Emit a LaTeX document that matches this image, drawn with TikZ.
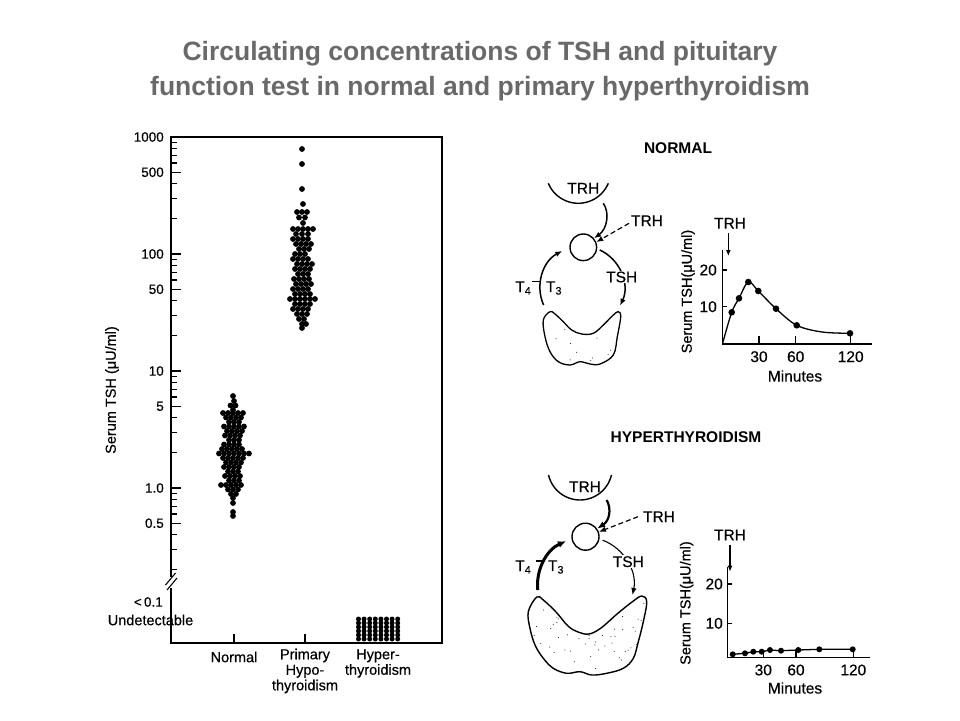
\documentclass[tikz,border=0pt]{standalone}
\usepackage{fontspec}
\setmainfont{Liberation Sans}
\newfontfamily\figfont[FakeBold=0.4]{Liberation Sans}
\usetikzlibrary{arrows.meta}
\definecolor{titlegray}{RGB}{105,105,105}
\begin{document}
\begin{tikzpicture}[x=1pt,y=-1pt,
  llab/.style={font=\figfont\fontsize{14.5}{15.5}\selectfont, inner sep=0pt},
  tlab/.style={font=\figfont\fontsize{13.5}{15}\selectfont, inner sep=0pt},
  rlab/.style={font=\figfont\fontsize{15.5}{17}\selectfont, inner sep=0pt},
  slab/.style={font=\figfont\fontsize{14.5}{16}\selectfont, inner sep=0pt},
  blab/.style={font=\bfseries\fontsize{15.5}{17}\selectfont, inner sep=0pt},
  ttl/.style={font=\bfseries\fontsize{26.5}{35}\selectfont, text=titlegray, align=center},
  axl/.style={line width=1.3pt},
  arr/.style={-{Latex[length=7pt,width=5.5pt]}, line width=1.5pt},
  darr/.style={-{Latex[length=7pt,width=5.5pt]}, line width=1.2pt, dash pattern=on 5pt off 3pt},
  pit/.style={circle, draw, line width=1.4pt, inner sep=0pt},
  gline/.style={line width=1.3pt}
]
\useasboundingbox (0,0) rectangle (960,720);

% ---------------- title ----------------
\node[ttl] (title) at (480,71.5) {Circulating concentrations of TSH and pituitary\\function test in normal and primary hyperthyroidism};

% ---------------- left chart ----------------
\draw[axl] (171,577) -- (171,137) -- (442,137) -- (442,643) -- (171,643) -- (171,588);
\draw[line width=1.1pt] (165.5,585) -- (175.5,573);
\draw[line width=1.1pt] (167,590) -- (177,578);
\foreach \v/\t [count=\i] in {1000/1000,500/500,100/100,50/50,10/10,5/5,1/1.0,0.5/0.5} {
  \pgfmathsetmacro\yy{137+117*(3-ln(\v)/ln(10))}
  \draw[axl] (171,\yy) -- (181,\yy);
  \node[tlab, anchor=east] (ytick\i) at (164,\yy) {\t};
}
\foreach \v in {900,800,700,600,400,300,200,90,80,70,60,40,30,20,9,8,7,6,4,3,2,0.9,0.8,0.7,0.6,0.4,0.3,0.2} {
  \pgfmathsetmacro\yy{137+117*(3-ln(\v)/ln(10))}
  \draw[line width=1.1pt] (171,\yy) -- (177,\yy);
}
\node[tlab, anchor=east] (lt01) at (163,602) {<\,0.1};
\node[llab] (undet) at (150.5,620) {Undetectable};
\node[llab, rotate=90] (ylabL) at (112,390) {Serum TSH (μU/ml)};
\draw[axl] (234,643) -- (234,634);
\draw[axl] (305,643) -- (305,634);
\node[llab] (cNormal) at (234,657) {Normal};
\node[llab, align=center] (cPrim) at (305,671) {Primary\\Hypo-\\thyroidism};
\node[llab, align=center] (cHyper) at (378,663.5) {Hyper-\\thyroidism};

% normal cluster
\foreach \y/\xs in {396/{0},401/{1},405.5/{-2.5,2.5},410/{0},413/{-10,-5,0,5,10},417.5/{-7,-2,3,8},422/{-4,1,6},426.5/{-9,-4,1,6,11},431/{-6,-1,4,9},435.5/{-8,-3,2,7},440/{-4,1,6},444.5/{-9,-4,1,6},449/{-11,-6,-1,4,9},453.5/{-14,-9,-4,1,6,11,16},458/{-10,-5,0,5,10},462.5/{-7,-2,3,8},467/{-9,-4,1,6},471.5/{-5,0,5},476/{-8,-3,2,7},480.5/{-4,1,6},485/{-12,-7,-2,3,8},489.5/{-5,0,5},494/{-2,3},498/{0},503/{0},512/{0},516/{0}} {
  \foreach \dx in \xs { \fill ({233+(\dx)},\y) circle[radius=2.9]; }
}
% primary hypothyroidism cluster
\foreach \y/\xs in {149/{0},164/{0},189/{0},204/{1},212/{-5,0,5},217.5/{-3,3},223/{1},229/{-9,-4,1,6,11},234/{-6,0,6},239/{-9,-4,1,6},244/{-6,-1,4,9},249/{-3,2,7},254/{-7,-2,3},259/{-9,-4,1,6},264/{-5,0,5,10},269/{-7,-2,3,8},274/{-4,1,6},279/{-8,-3,2,7},284/{-6,-1,4,9},289/{-9,-4,1,6},294/{-7,-2,3,8},299/{-12,-7,-2,3,8,13},304/{-7,-2,3,8},309/{-9,-4,1,6},314/{-5,0,5},319/{-3,2},324/{0,4},328/{0}} {
  \foreach \dx in \xs { \fill ({302+(\dx)},\y) circle[radius=2.9]; }
}
% hyperthyroidism block
\foreach \c in {0,...,7} { \foreach \r in {0,...,5} {
  \fill ({358.5+5.6*\c},{619+4*\r}) circle[radius=2.5];
}}

% ---------------- NORMAL panel ----------------
\node[blab] (tNormal) at (678,148) {NORMAL};
\draw[line width=1.4pt] (578.3,170.8) ++(157.4:32.5) arc[start angle=157.4, end angle=22.6, radius=32.5];
\node[rlab] (nTRHh) at (583.3,188.3) {TRH};
\node[pit, minimum size=26.6pt] (nPit) at (583.3,247.3) {};
\coordinate (nHypOut) at (603.3,203.3);
\draw[arr] (nHypOut) .. controls (610,213) and (607,229) .. (nPit.40);
\node[rlab] (nTRHd) at (647,220.7) {TRH};
\coordinate (nDashS) at (629,223.3);
\draw[darr] (nDashS) -- (nPit.22);
\draw[arr] (582,288) ++(-65:42) arc[start angle=-65, end angle=25, radius=42];
\node[rlab, fill=white, inner sep=1pt] (nTSH) at (621.7,277) {TSH};
\draw[arr] (582,288) ++(156:42) arc[start angle=156, end angle=242, radius=42];
\draw[line width=1.2pt] (532,281.5) -- (539.5,281.5);
\node[rlab] (nT4) at (523.3,288) {T\textsubscript{4}};
\node[rlab] (nT3) at (554,288) {T\textsubscript{3}};
% thyroid (normal)
\def\thyN{(550,311.7) (543.3,320) (545,336.7) (550,351.7) (558.3,361.7) (570,365) (580,361.7) (590,364) (600,364) (613.3,355) (617.3,336.7) (620.7,316.7) (618.3,311.7) (613.3,315) (603.3,325) (593.3,333.3) (581.7,334) (571.7,330) (563.3,321.7) (555,314)}
\draw[line width=1.3pt, fill=white] plot[smooth cycle, tension=0.6] coordinates {\thyN};
\begin{scope}
  \clip plot[smooth cycle, tension=0.6] coordinates {\thyN};
  \pgfmathsetseed{7}
  \foreach \k in {1,...,18} { \fill ({545+rnd*72},{318+rnd*44}) circle[radius=0.5]; }
\end{scope}
% graph (normal)
\draw[gline] (722.7,250) -- (722.7,344) -- (871.7,344);
\draw[gline] (722.7,270) -- (727,270);
\draw[gline] (722.7,306.7) -- (727,306.7);
\draw[gline] (759,344) -- (759,336);
\draw[gline] (795.7,344) -- (795.7,336);
\draw[gline] (850.7,344) -- (850.7,334);
\node[rlab, anchor=east] (n20) at (717,270) {20};
\node[rlab, anchor=east] (n10) at (717,306.7) {10};
\node[rlab] (n30) at (759,356.7) {30};
\node[rlab] (n60) at (795.7,356.7) {60};
\node[rlab] (n120) at (850.7,356.7) {120};
\node[rlab] (nMin) at (795,376) {Minutes};
\node[slab, rotate=90] (nYl) at (688,291.5) {Serum TSH(μU/ml)};
\node[rlab] (nTRHg) at (730,223.3) {TRH};
\coordinate (nTRHa) at (728.3,233);
\coordinate (nTRHb) at (728.3,256);
\draw[-{Latex[length=6pt,width=5pt]}, line width=1.4pt] (nTRHa) -- (nTRHb);
\draw[gline] plot[smooth, tension=0.55] coordinates {(722.7,343) (731.7,312.3) (739,298.3) (748.3,282) (758.3,291) (776,308.7) (796.7,325.3) (822,332) (850,333.3)};
\foreach \p in {(731.7,312.3),(739,298.3),(748.3,282),(758.3,291),(776,308.7),(796.7,325.3),(850,333.3)} { \fill \p circle[radius=3.3]; }

% ---------------- HYPERTHYROIDISM panel ----------------
\node[blab] (tHyper) at (686,436.7) {HYPERTHYROIDISM};
\draw[line width=1.4pt] (580,467.7) ++(167:32.3) arc[start angle=167, end angle=13, radius=32.3];
\node[rlab] (hTRHh) at (585,486.7) {TRH};
\node[pit, minimum size=27pt] (hPit) at (585.5,536.7) {};
\coordinate (hHypOut) at (606.7,500);
\draw[-{Latex[length=8pt,width=6.5pt]}, line width=2.2pt] (hHypOut) .. controls (612,510) and (609,521) .. (hPit.35);
\node[rlab] (hTRHd) at (659,516.7) {TRH};
\coordinate (hDashS) at (638,516.7);
\draw[darr] (hDashS) -- (hPit.20);
\draw[-{Latex[length=7pt,width=5.5pt]}, line width=1.1pt] (585.5,585) ++(-69:48) arc[start angle=-69, end angle=12, radius=48];
\node[rlab, fill=white, inner sep=1pt] (hTSH) at (628.3,561.7) {TSH};
\draw[-{Latex[length=8pt,width=7pt]}, line width=3pt] (585.5,585) ++(174:48) arc[start angle=174, end angle=246, radius=48];
\draw[line width=1.2pt] (535.5,561) -- (542.5,561);
\node[rlab] (hT4) at (523.3,567) {T\textsubscript{4}};
\node[rlab] (hT3) at (556,567) {T\textsubscript{3}};
% thyroid (hyper)
\def\thyH{(536.7,597) (528.3,611.7) (530,628.3) (535,645) (543.3,658.3) (553.3,668.3) (566.7,673.3) (580,671.7) (591.7,675) (606.7,673.3) (623.3,668.3) (633.3,658.3) (638.3,641.7) (643.3,621.7) (646.7,601.7) (641.7,596) (632,602) (617,614) (601,628) (589,634) (578,632) (568,626) (556,612) (543.3,600)}
\draw[line width=1.4pt, fill=white] plot[smooth cycle, tension=0.6] coordinates {\thyH};
\begin{scope}
  \clip plot[smooth cycle, tension=0.6] coordinates {\thyH};
  \pgfmathsetseed{11}
  \foreach \k in {1,...,70} { \fill ({530+rnd*115},{600+rnd*74}) circle[radius=0.5]; }
\end{scope}
% graph (hyper)
\draw[gline] (727.3,566.7) -- (727.3,657.3) -- (870,657.3);
\draw[gline] (727.3,584) -- (732,584);
\draw[gline] (727.3,623.3) -- (732,623.3);
\draw[gline] (763.3,657.3) -- (763.3,650);
\draw[gline] (796,657.3) -- (796,650);
\draw[gline] (853.3,657.3) -- (853.3,650);
\node[rlab, anchor=east] (h20) at (723,584) {20};
\node[rlab, anchor=east] (h10) at (723,623.3) {10};
\node[rlab] (h30) at (763.3,670) {30};
\node[rlab] (h60) at (796,670) {60};
\node[rlab] (h120) at (853.3,670) {120};
\node[rlab] (hMin) at (795,688) {Minutes};
\node[slab, rotate=90] (hYl) at (686.7,603) {Serum TSH(μU/ml)};
\node[rlab] (hTRHg) at (730,535) {TRH};
\coordinate (hTRHa) at (730,545);
\coordinate (hTRHb) at (730,571.7);
\draw[-{Latex[length=6pt,width=5pt]}, line width=1.4pt] (hTRHa) -- (hTRHb);
\draw[gline] (732.7,654.3) -- (745,653.3) -- (753.3,651.7) -- (761.7,651.7) -- (770,650) -- (781,650.7) -- (798.3,650) -- (819.3,649.3) -- (852.7,649.3);
\foreach \p in {(732.7,654.3),(745,653.3),(753.3,651.7),(761.7,651.7),(770,650),(781,650.7),(798.3,650),(819.3,649.3),(852.7,649.3)} { \fill \p circle[radius=3]; }
\end{tikzpicture}
\end{document}
